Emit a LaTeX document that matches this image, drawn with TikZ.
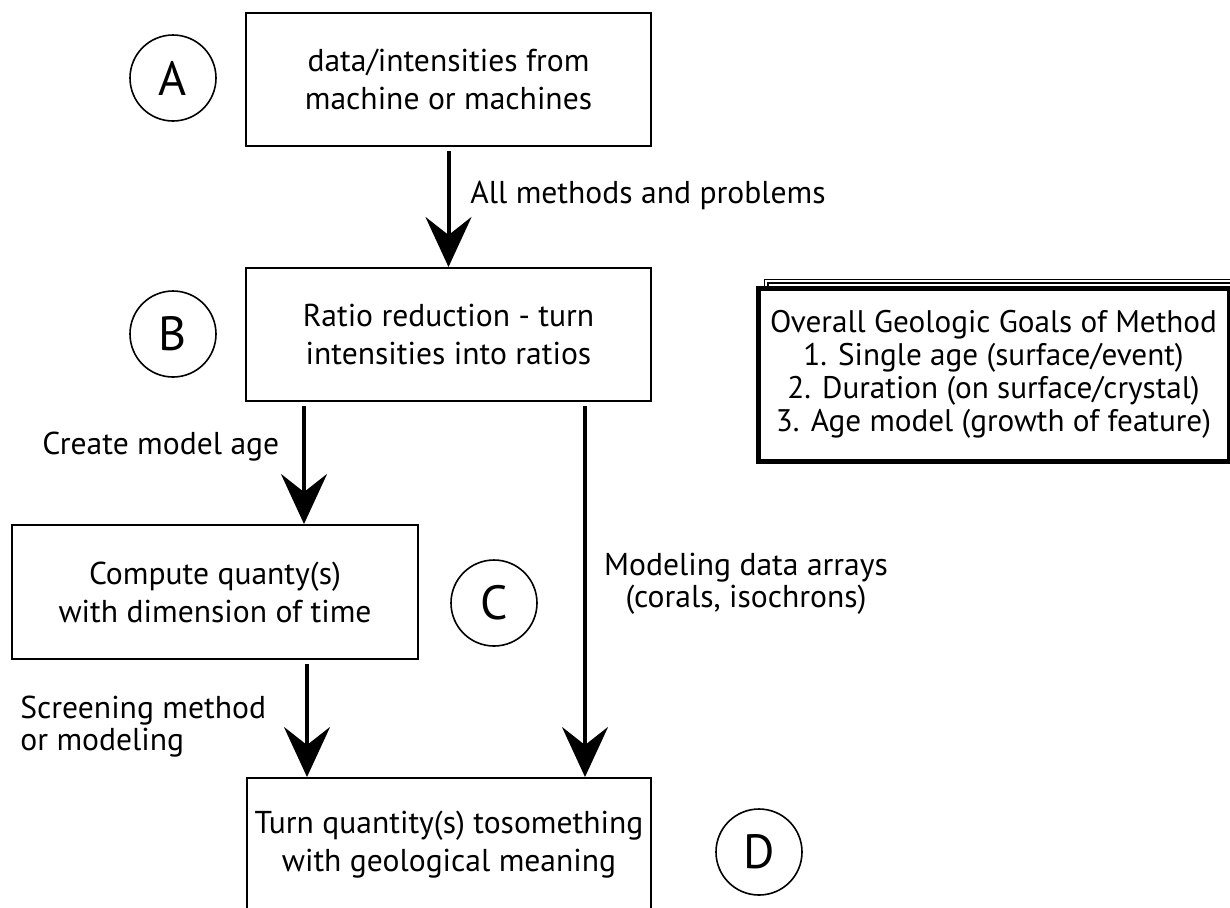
\documentclass[tikz,border=0pt]{standalone}
\usepackage{fontspec}
\setmainfont{PT Sans}
\usetikzlibrary{arrows.meta}
\begin{document}
\begin{tikzpicture}[x=0.5pt,y=-0.5pt,
  stepbox/.style={draw, line width=1pt, inner sep=0pt, align=center,
    minimum width=202.5pt, minimum height=66.5pt,
    font=\fontsize{15.8}{19}\selectfont},
  letter/.style={draw, circle, line width=0.8pt, minimum size=43pt, inner sep=0pt,
    font=\fontsize{24}{28}\selectfont},
  lbl/.style={inner sep=0pt, font=\fontsize{15.8}{16}\selectfont},
  flow/.style={line width=2pt, -{Stealth[length=25pt,width=23pt,inset=9pt]}, shorten <=2pt},
]
\useasboundingbox (0,0) rectangle (1230,907);
% boxes
\node[stepbox] (A) at (448.5,79.5) {data/intensities from\\machine or machines};
\node[stepbox] (B) at (448.5,334.5) {Ratio reduction - turn\\intensities into ratios};
\node[stepbox, minimum width=203pt, minimum height=67pt] (C) at (215,592)
  {Compute quanty(s)\\with dimension of time};
\node[stepbox, minimum width=202pt] (D) at (449,844.5)
  {Turn quantity(s) tosomething\\with geological meaning};
% letters
\node[letter] (cA) at (173,78) {A};
\node[letter] (cB) at (173,334) {B};
\node[letter] (cC) at (494,603) {C};
\node[letter] (cD) at (759,852) {D};
% goals box
\draw[double, line width=0.75pt, double distance=1pt] (766,300) -- (766,281) -- (1245,281);
\node[draw, fill=white, line width=2.5pt, minimum width=235.5pt, minimum height=86.5pt,
  inner sep=0pt, align=center, font=\fontsize{15.6}{16.6}\selectfont] (G) at (993.5,374.5)
  {Overall Geologic Goals of Method\\1. Single age (surface/event)\\2. Duration (on surface/crystal)\\3. Age model (growth of feature)};
% connectors
\draw[flow] (A.south) -- (B.north);
\draw[flow] ([xshift=-72.25pt]B.south) -- ([xshift=-72.25pt]B.south |- C.north);
\draw[flow] ([xshift=68.25pt]B.south) -- ([xshift=68.25pt]B.south |- D.north);
\draw[flow] ([xshift=46pt]C.south) -- ([xshift=46pt]C.south |- D.north);
% labels
\node[lbl, anchor=west] (l1) at (470,195) {All methods and problems};
\node[lbl, anchor=west] (l2) at (42,447) {Create model age};
\node[lbl, align=center] (l3) at (746,584) {Modeling data arrays\\(corals, isochrons)};
\node[lbl, align=left, anchor=west] (l4) at (20,727) {Screening method\\or modeling};
\end{tikzpicture}
\end{document}
